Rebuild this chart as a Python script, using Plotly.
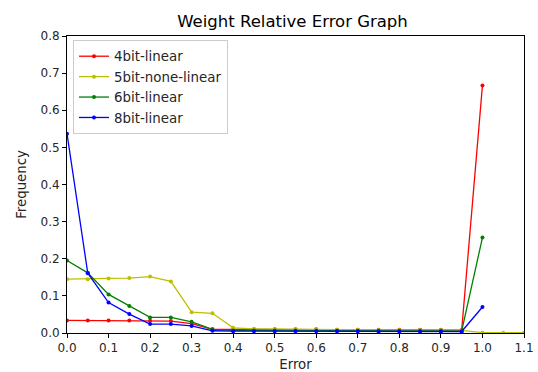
import plotly.graph_objects as go

x_main = [0.0, 0.05, 0.1, 0.15, 0.2, 0.25, 0.3, 0.35, 0.4, 0.45, 0.5, 0.55, 0.6, 0.65, 0.7, 0.75, 0.8, 0.85, 0.9, 0.95, 1.0]
x_5bit = x_main + [1.05, 1.1]

y_4bit = [0.034, 0.034, 0.034, 0.034, 0.033, 0.032, 0.025, 0.010, 0.010, 0.010, 0.010, 0.010, 0.010, 0.009, 0.009, 0.009, 0.009, 0.009, 0.009, 0.008, 0.667]
y_5bit = [0.145, 0.145, 0.147, 0.148, 0.152, 0.139, 0.056, 0.053, 0.014, 0.011, 0.010, 0.010, 0.010, 0.009, 0.009, 0.008, 0.008, 0.008, 0.008, 0.007, 0.001, 0.001, 0.001]
y_6bit = [0.195, 0.162, 0.104, 0.073, 0.042, 0.042, 0.030, 0.010, 0.007, 0.007, 0.007, 0.007, 0.007, 0.006, 0.006, 0.006, 0.006, 0.006, 0.006, 0.005, 0.257]
y_8bit = [0.537, 0.161, 0.082, 0.051, 0.024, 0.024, 0.019, 0.006, 0.005, 0.005, 0.005, 0.005, 0.005, 0.005, 0.005, 0.004, 0.004, 0.004, 0.004, 0.004, 0.070]

series = [
    ("4bit-linear", x_main, y_4bit, "#ff0000"),
    ("5bit-none-linear", x_5bit, y_5bit, "#bfbf00"),
    ("6bit-linear", x_main, y_6bit, "#008000"),
    ("8bit-linear", x_main, y_8bit, "#0000ff"),
]

fig = go.Figure()
for name, xs, ys, col in series:
    fig.add_trace(go.Scatter(x=xs, y=ys, name=name, mode="lines+markers",
                             line=dict(color=col, width=1.3),
                             marker=dict(color=col, size=4)))

font = "DejaVu Sans, sans-serif"
fig.update_layout(
    template="none",
    width=538, height=372,
    margin=dict(l=67, r=14, t=36, b=39, pad=0),
    paper_bgcolor="white", plot_bgcolor="white",
    font=dict(family=font, size=12, color="#262626"),
    title=dict(text="Weight Relative Error Graph", x=292.5 / 538, xref="container", xanchor="center",
               y=1 - 21 / 372, yref="container", yanchor="middle",
               font=dict(size=16.5, color="black")),
    showlegend=True,
    legend=dict(x=6 / 457, y=1 - 4 / 297, xanchor="left", yanchor="top",
                bordercolor="#cccccc", borderwidth=1, bgcolor="rgba(255,255,255,0.8)",
                font=dict(size=13.4, color="#262626"), tracegroupgap=0, itemwidth=30),
)
fig.update_xaxes(range=[0, 1.1], tickmode="array", tickvals=[i / 10 for i in range(12)],
                 tickformat=".1f", showgrid=False, zeroline=False, automargin=False,
                 showline=True, linecolor="black", linewidth=1, mirror=True,
                 ticks="outside", ticklen=4, tickcolor="black", tickfont=dict(size=12),
                 title=dict(text="Error", standoff=8, font=dict(size=13.3, color="#262626")))
fig.update_yaxes(range=[0, 0.8], tickmode="array", tickvals=[i / 10 for i in range(9)],
                 tickformat=".1f", showgrid=False, zeroline=False, automargin=False,
                 showline=True, linecolor="black", linewidth=1, mirror=True,
                 ticks="outside", ticklen=4, tickcolor="black", tickfont=dict(size=12),
                 title=dict(text="Frequency", standoff=10, font=dict(size=13.3, color="#262626")))

fig.write_html("out.html")
